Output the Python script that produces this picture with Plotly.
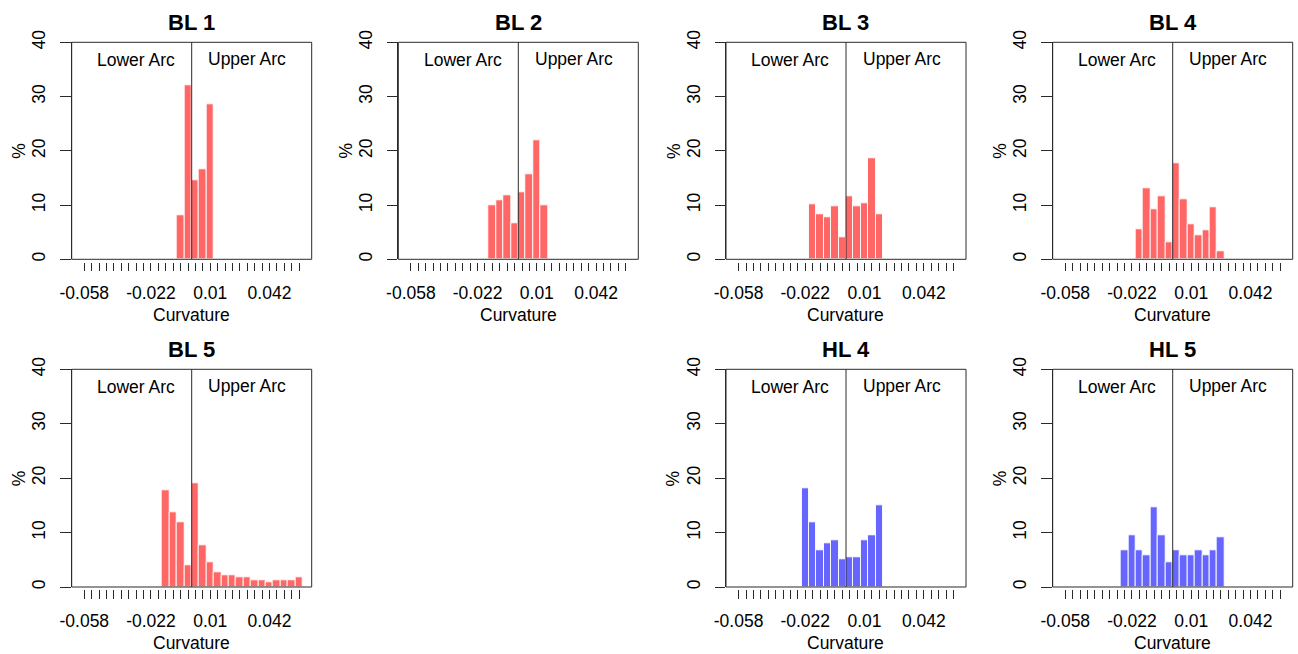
import plotly.graph_objects as go

# ---------------- data ----------------
bin_centers = [-0.058, -0.054, -0.050, -0.046, -0.042, -0.038, -0.034, -0.030,
               -0.026, -0.022, -0.018, -0.014, -0.010, -0.006, -0.002, 0.002,
               0.006, 0.010, 0.014, 0.018, 0.022, 0.026, 0.030, 0.034,
               0.038, 0.042, 0.046, 0.050, 0.054, 0.058]
tick_labels = {-0.058: "-0.058", -0.022: "-0.022", 0.010: "0.01", 0.042: "0.042"}

bl1_x = [-0.006, -0.002, 0.002, 0.006, 0.010]
bl1_pct = [8.2, 32.0, 14.5, 16.5, 28.6]

bl2_x = [-0.014, -0.010, -0.006, -0.002, 0.002, 0.006, 0.010, 0.014]
bl2_pct = [9.9, 10.8, 11.8, 6.7, 12.4, 15.7, 21.9, 9.9]

bl3_x = [-0.018, -0.014, -0.010, -0.006, -0.002, 0.002, 0.006, 0.010, 0.014, 0.018]
bl3_pct = [10.2, 8.3, 7.8, 9.8, 4.1, 11.6, 9.8, 10.3, 18.7, 8.3]

bl4_x = [-0.018, -0.014, -0.010, -0.006, -0.002, 0.002, 0.006, 0.010, 0.014,
         0.018, 0.022, 0.026]
bl4_pct = [5.5, 13.0, 9.2, 11.6, 3.2, 17.7, 11.1, 6.5, 4.5, 5.4, 9.6, 1.4]

bl5_x = [-0.014, -0.010, -0.006, -0.002, 0.002, 0.006, 0.010, 0.014, 0.018,
         0.022, 0.026, 0.030, 0.034, 0.038, 0.042, 0.046, 0.050, 0.054, 0.058]
bl5_pct = [17.8, 13.7, 11.8, 4.0, 19.1, 7.7, 4.5, 2.7, 2.1, 2.1, 1.7, 1.7,
           1.3, 1.3, 0.8, 1.3, 1.3, 1.3, 1.7]

hl4_x = [-0.022, -0.018, -0.014, -0.010, -0.006, -0.002, 0.002, 0.006, 0.010,
         0.014, 0.018]
hl4_pct = [18.2, 11.8, 6.8, 8.1, 8.6, 5.0, 5.4, 5.4, 8.6, 9.5, 15.1]

hl5_x = [-0.026, -0.022, -0.018, -0.014, -0.010, -0.006, -0.002, 0.002, 0.006,
         0.010, 0.014, 0.018, 0.022, 0.026]
hl5_pct = [6.8, 9.5, 6.8, 5.9, 14.6, 9.5, 4.6, 6.8, 5.9, 5.9, 6.8, 5.9, 6.8, 9.1]

RED = "#FF6666"
BLUE = "#6666FF"

panels = [
    ("BL 1", bl1_x, bl1_pct, RED, 0, 0),
    ("BL 2", bl2_x, bl2_pct, RED, 0, 1),
    ("BL 3", bl3_x, bl3_pct, RED, 0, 2),
    ("BL 4", bl4_x, bl4_pct, RED, 0, 3),
    ("BL 5", bl5_x, bl5_pct, RED, 1, 0),
    ("HL 4", hl4_x, hl4_pct, BLUE, 1, 2),
    ("HL 5", hl5_x, hl5_pct, BLUE, 1, 3),
]

# ---------------- layout geometry (pixels) ----------------
W, H = 1298, 654
col_left = [71.7, 398.3, 726.0, 1052.7]
panel_w = 240.0
row_top = [42.3, 369.3]
row_bot = [259.3, 587.0]
title_y = [22.5, 349.5]
xlab_y = [315.0, 643.0]

FONT = "Liberation Sans, Arial, sans-serif"
LINE = "#2a2a2a"

fig = go.Figure()
layout = dict(
    width=W, height=H, margin=dict(l=0, r=0, t=0, b=0, autoexpand=False),
    paper_bgcolor="white", plot_bgcolor="white", showlegend=False,
    font=dict(family=FONT, size=17, color="black"),
    bargap=0,
)
shapes = []
annotations = []

ticktext = [tick_labels.get(v, "") for v in bin_centers]

for i, (name, xs, ys, col, r, c) in enumerate(panels):
    idx = "" if i == 0 else str(i + 1)
    xa, ya = "x" + idx, "y" + idx
    fig.add_trace(go.Bar(
        x=xs, y=ys, width=0.004, xaxis=xa, yaxis=ya,
        marker=dict(color=col, line=dict(color="rgba(255,255,255,0.9)", width=1)),
        hoverinfo="x+y",
    ))
    x0 = col_left[c] / W
    x1 = (col_left[c] + panel_w) / W
    y0 = 1 - row_bot[r] / H
    y1 = 1 - row_top[r] / H
    layout["xaxis" + idx] = dict(
        domain=[x0, x1], range=[-0.0648, 0.0648], anchor="free",
        position=1 - (row_bot[r] + 2.4) / H, automargin=False,
        showgrid=False, zeroline=False, showline=False,
        tickmode="array", tickvals=bin_centers, ticktext=ticktext,
        ticks="outside", ticklen=8.5, tickwidth=1, tickcolor=LINE,
        tickfont=dict(size=17.5), ticklabelstandoff=7,
        fixedrange=True,
    )
    layout["yaxis" + idx] = dict(
        domain=[y0, y1], range=[0, 40], anchor=xa, automargin=False,
        showgrid=False, zeroline=False, showline=True, linecolor=LINE, linewidth=1,
        tickmode="array", tickvals=[0, 10, 20, 30, 40],
        ticktext=["0", "10", "20", "30", "40"], tickangle=-90,
        ticks="outside", ticklen=10.5, tickwidth=1, tickcolor=LINE,
        tickfont=dict(size=17.5), ticklabelstandoff=8,
        fixedrange=True,
    )
    # box
    shapes.append(dict(type="rect", xref=xa + " domain", yref=ya + " domain",
                       x0=0, x1=1, y0=0, y1=1, line=dict(color=LINE, width=1),
                       layer="above"))
    # separator at curvature 0
    shapes.append(dict(type="line", xref=xa, yref=ya + " domain",
                       x0=0, x1=0, y0=0, y1=1, line=dict(color=LINE, width=1),
                       layer="above"))
    annotations += [
        dict(text="Lower Arc", x=-0.03, y=36.8, xref=xa, yref=ya,
             showarrow=False, font=dict(size=17.5), xanchor="center", yanchor="middle"),
        dict(text="Upper Arc", x=0.03, y=36.9, xref=xa, yref=ya,
             showarrow=False, font=dict(size=17.5), xanchor="center", yanchor="middle"),
        dict(text="<b>" + name + "</b>", x=0.5, xref=xa + " domain",
             y=1 - title_y[r] / H, yref="paper", showarrow=False,
             font=dict(size=22), xanchor="center", yanchor="middle"),
        dict(text="Curvature", x=0.5, xref=xa + " domain",
             y=1 - xlab_y[r] / H, yref="paper", showarrow=False,
             font=dict(size=17.5), xanchor="center", yanchor="middle"),
        dict(text="%", x=-(52.7 / panel_w), xref=xa + " domain",
             y=0.5, yref=ya + " domain", showarrow=False, textangle=-90,
             font=dict(size=17.5), xanchor="center", yanchor="middle"),
    ]

layout["shapes"] = shapes
layout["annotations"] = annotations
fig.update_layout(**layout)

fig.write_html("out.html", config={"displayModeBar": False},
               post_script="document.body.style.margin='0';")
